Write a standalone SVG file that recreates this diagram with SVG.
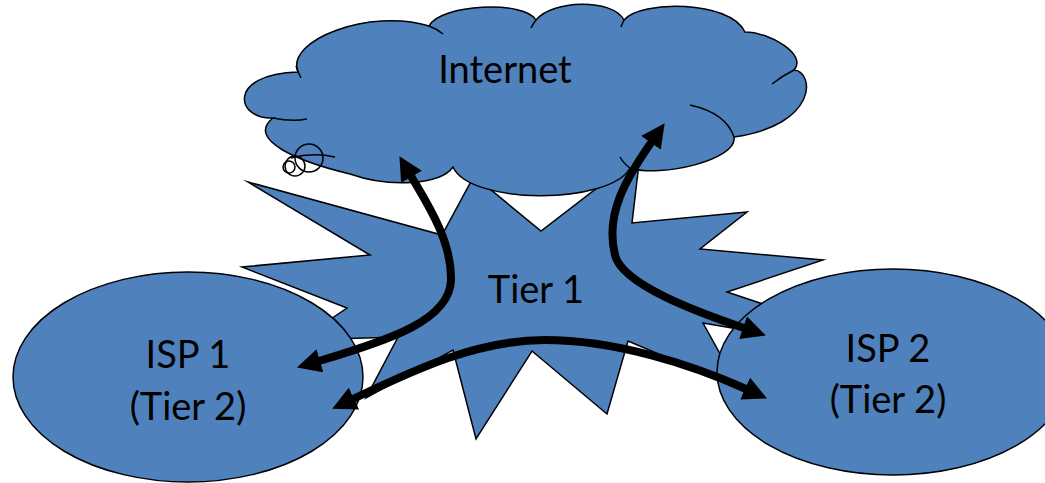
<svg xmlns="http://www.w3.org/2000/svg" width="1045" height="483" viewBox="0 0 1045 483">
<defs>
<style>
.shape{fill:#4F81BD;stroke:#000;stroke-width:1.5;stroke-linejoin:miter;stroke-miterlimit:10}
.line{fill:none;stroke:#000;stroke-width:1.5}
.lbl{font-family:Lato,"Liberation Sans",sans-serif;font-size:38px;fill:#000;text-anchor:middle}
.arr{fill:none;stroke:#000;stroke-width:8;marker-start:url(#ah);marker-end:url(#ah)}
</style>
<marker id="ah" markerUnits="userSpaceOnUse" markerWidth="24" markerHeight="24" viewBox="0 0 24 24" refX="1" refY="12" orient="auto-start-reverse">
<path d="M0,0 L24,12 L0,24 Z" fill="#000"/>
</marker>
</defs>
<rect width="1045" height="483" fill="#fff"/>
<g id="tier1">
<polygon class="shape" points="248,182 442,235 474,176 541,231 640,155 632,223 747,212 700,249 823,260 727,292 945,365 703,323 739,388 628,341 607,414 532,351 476,439 453,350 366,398 398,337 300,340 347,308 242,267 370,255"/>
<text class="lbl" x="536" y="303">Tier 1</text>
</g>
<g id="internet">
<path class="shape" d="M273 118 C236 120 226 74 298 72 C285 40 370 8 429 26 C440 4 525 0 536 20 C552 0 612 -2 624 20 C640 0 730 0 745 32 C770 32 808 55 794 70 C815 72 818 125 734 137 C738 160 660 178 630 168 C610 205 470 205 453 167 C440 185 390 188 350 174 C300 162 245 140 273 118 Z"/>
<path class="line" d="M273 118 Q292 122 307 119 M296 66 Q298 72 301 78 M429 26 Q437 29 443 34 M536 20 Q533 24 531 28 M624 20 Q622 24 621 27 M794 70 Q782 76 772 84 M734 137 Q726 113 690 105 M630 168 Q624 164 620 157 M291 158 Q313 152 335 157"/>
<circle class="line" cx="309" cy="158" r="14"/>
<circle class="line" cx="295" cy="166" r="10"/>
<circle class="line" cx="289" cy="167" r="6"/>
<text class="lbl" x="505" y="83">Internet</text>
</g>
<g id="isp1">
<ellipse class="shape" cx="188" cy="377" rx="175" ry="105"/>
<text class="lbl" x="188" y="368">ISP 1</text>
<text class="lbl" x="188" y="420">(Tier 2)</text>
</g>
<g id="isp2">
<ellipse class="shape" cx="893" cy="372" rx="176" ry="103"/>
<text class="lbl" x="888" y="362">ISP 2</text>
<text class="lbl" x="888" y="413">(Tier 2)</text>
</g>
<g id="connectors">
<path class="arr" d="M411 176 C425 200 452 240 451 280 C450 320 390 340 319 361"/>
<path class="arr" d="M651.5 142 C625 180 605 215 615 255 C622 285 700 313 744 328"/>
<path class="arr" d="M353 399 C410 372 475 340 545 340 C615 340 690 364 746 389"/>
</g>
</svg>
